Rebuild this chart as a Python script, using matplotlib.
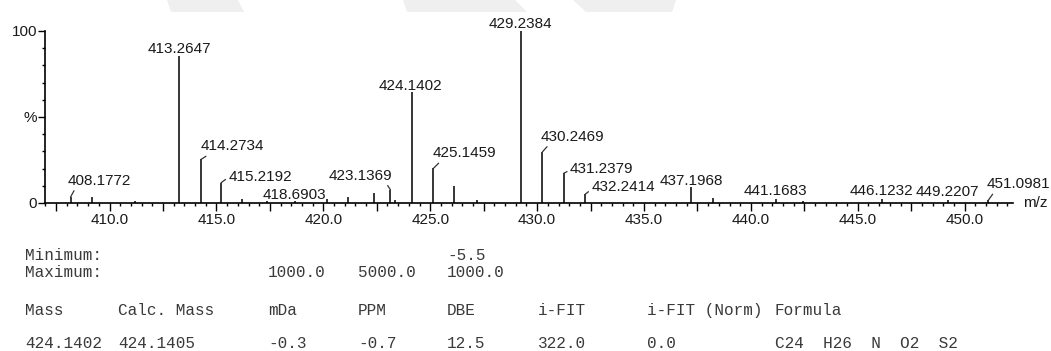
import matplotlib
matplotlib.use("Agg")
import matplotlib.pyplot as plt
from matplotlib.patches import Polygon
from matplotlib.ticker import FixedLocator, FuncFormatter, MultipleLocator

# spectrum peaks (m/z, relative intensity %)
peak_mz = [408.1772, 409.17, 411.20, 413.2647, 414.2734, 415.2192, 416.18, 417.35,
           418.6903, 420.16, 421.17, 422.37, 423.1369, 423.35, 424.1402, 425.1459,
           426.10, 427.17, 429.2384, 430.2469, 431.2379, 432.2414, 437.1968, 438.24,
           441.1683, 442.45, 446.1232, 449.2207, 451.0981]
peak_int = [3.5, 3.5, 1.2, 85.2, 25.3, 11.8, 2.5, 1.2,
            1.0, 2.5, 3.5, 5.6, 7.7, 2.0, 64.5, 20.1,
            9.9, 2.0, 100.0, 29.7, 17.2, 5.0, 9.1, 2.7,
            2.3, 1.2, 2.3, 2.0, 1.5]

labelled = ["408.1772", "413.2647", "414.2734", "415.2192", "418.6903", "423.1369",
            "424.1402", "425.1459", "429.2384", "430.2469", "431.2379", "432.2414",
            "437.1968", "441.1683", "446.1232", "449.2207", "451.0981"]

# label placement: offset in pixels from peak top, and leader anchor on text box
label_offset = {
    "408.1772": (29, 12, (0.12, 0.0)),
    "413.2647": (0, 3, None),
    "414.2734": (31, 9, (0.16, 0.0)),
    "415.2192": (39, 2, (0.0, 0.45)),
    "418.6903": (-1, 2, None),
    "423.1369": (-30, 10, (0.9, 0.0)),
    "424.1402": (-1, 2, None),
    "425.1459": (31, 11, (0.14, 0.0)),
    "429.2384": (0, 3, None),
    "430.2469": (30, 11, (0.14, 0.0)),
    "431.2379": (38, 0, (0.0, 0.45)),
    "432.2414": (38, 3, (0.0, 0.35)),
    "437.1968": (0, 2, None),
    "441.1683": (0, 4, None),
    "446.1232": (0, 4, None),
    "449.2207": (-1, 4, None),
    "451.0981": (30, 12, (0.13, 0.0)),
}

# text block under the spectrum
limits_rows = [
    ("Minimum:", [("-5.5", 447)]),
    ("Maximum:", [("1000.0", 268), ("5000.0", 358), ("1000.0", 447)]),
]
header = ["Mass", "Calc. Mass", "mDa", "PPM", "DBE", "i-FIT", "i-FIT (Norm)", "Formula"]
result = ["424.1402", "424.1405", "-0.3", "-0.7", "12.5", "322.0", "0.0", "C24  H26  N  O2  S2"]
col_x = [25, 118, 268, 358, 447, 538, 647, 775]

W, H = 1051, 351
fig = plt.figure(figsize=(W / 100, H / 100), dpi=100)
fig.patch.set_facecolor("white")
plt.rcParams["font.family"] = ["Liberation Sans", "DejaVu Sans"]
ink = "#1a1a1a"

# faint watermark remnants at the top edge
for pts in [[(167, 0), (238, 0), (244, 12), (171, 12)],
            [(403, 0), (515, 0), (527, 12), (407, 12)],
            [(573, 0), (676, 0), (672, 12), (586, 12)]]:
    fig.patches.append(Polygon([(x / W, 1 - y / H) for x, y in pts], closed=True,
                               transform=fig.transFigure, facecolor="#efefef",
                               edgecolor="none", zorder=0))

ax = fig.add_axes([45 / W, 1 - 203 / H, 968 / W, 172 / H])
ax.set_xlim(406.98, 452.26)
ax.set_ylim(0, 100)
ax.patch.set_alpha(0)

ax.vlines(peak_mz, 0, peak_int, color="black", lw=1.1)

for name in labelled:
    i = peak_mz.index(float(name))
    dx, dy, rel = label_offset[name]
    kw = {}
    if rel is not None:
        kw["arrowprops"] = dict(arrowstyle="-", color="#333333", lw=0.9,
                                shrinkA=0, shrinkB=0, relpos=rel)
    ax.annotate(name, xy=(peak_mz[i], peak_int[i]), xytext=(dx, dy),
                textcoords="offset pixels", ha="center", va="baseline",
                fontsize=11, color=ink, annotation_clip=False, **kw)

for s in ["top", "right"]:
    ax.spines[s].set_visible(False)
for s in ["left", "bottom"]:
    ax.spines[s].set_linewidth(1.2)
    ax.spines[s].set_color("black")

ax.xaxis.set_major_locator(MultipleLocator(2.5))
ax.xaxis.set_minor_locator(MultipleLocator(0.5))
ax.xaxis.set_major_formatter(FuncFormatter(
    lambda v, p: "%.1f" % v if abs(v / 5 - round(v / 5)) < 1e-6 else ""))
ax.tick_params(axis="x", which="major", length=5.5, width=1, pad=1.5,
               labelsize=11, labelcolor=ink)
ax.tick_params(axis="x", which="minor", length=2.5, width=1)

ax.yaxis.set_major_locator(FixedLocator([0, 50, 100]))
ax.yaxis.set_minor_locator(MultipleLocator(10))
ax.set_yticklabels(["0", "%", "100"])
ax.tick_params(axis="y", which="major", length=5, width=1, pad=0.5,
               labelsize=11, labelcolor=ink)
ax.tick_params(axis="y", which="minor", length=2.2, width=1)

ax.text(1.0105, 0, "m/z", transform=ax.transAxes, ha="left", va="center",
        fontsize=11, color=ink)

mono = dict(family="Liberation Mono", fontsize=11.5, color="#3a3a3a", va="baseline")
for (lab, vals), base in zip(limits_rows, [260, 277]):
    fig.text(25 / W, 1 - base / H, lab, **mono)
    for v, x in vals:
        fig.text(x / W, 1 - base / H, v, **mono)
for t, x in zip(header, col_x):
    fig.text(x / W, 1 - 315 / H, t, **mono)
for t, x in zip(result, col_x):
    fig.text(x / W, 1 - 348 / H, t, **mono)

fig.savefig("out.png", dpi=100)
